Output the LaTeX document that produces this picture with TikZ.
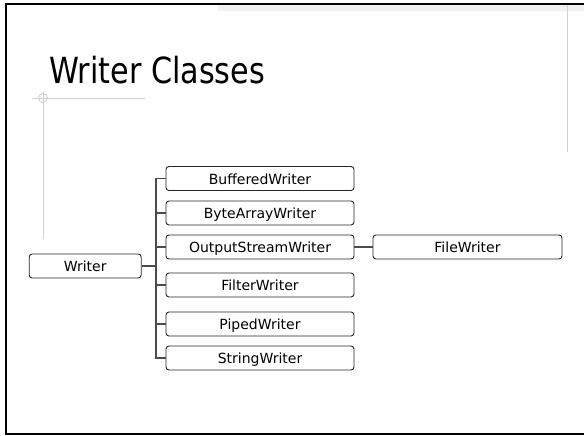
\documentclass[tikz,border=0pt]{standalone}
\usepackage{fontspec}
\setmainfont{DejaVu Sans}
\newfontfamily\titlefont[FakeStretch=0.84]{DejaVu Sans}
\begin{document}
\begin{tikzpicture}[x=1pt,y=-1pt]
		\tikzstyle{cls}=[draw=black!85, line width=0.9pt, rounded corners=3pt, minimum width=188pt, minimum height=24pt, inner sep=0pt, text height=11.2pt, text depth=0pt, font=\fontsize{14}{16}\selectfont];
		\tikzstyle{link}=[draw=black!70, line width=1.2pt];
		\tikzstyle{guide}=[draw=black!18, line width=0.9pt];

		\useasboundingbox (0,0) rectangle (584,436);

		% slide frame and guides
		\fill[black!6] (218,5) rectangle (584,11.5);
		\draw[line width=2pt] (584,3.7) -- (6,3.7) -- (6,434.3) -- (584,434.3);
		\draw[guide] (567,4.7) -- (567,152);
		\draw[guide] (32,98) -- (145,98);
		\draw[guide] (43,92) -- (43,239);
		\draw[guide] (43,98) circle (4.5);

		\node[anchor=base west, inner sep=0pt, font=\titlefont\fontsize{36}{40}\selectfont] (title) at (49,83.3) {Writer Classes};

		\node[cls, minimum width=112pt] (writer) at (85.2,266) {Writer};
		\node[cls] (buffered) at (260,178.5) {BufferedWriter};
		\node[cls] (bytearray) at (260,213) {ByteArrayWriter};
		\node[cls] (outputstream) at (260,247) {OutputStreamWriter};
		\node[cls] (filter) at (260,285) {FilterWriter};
		\node[cls] (piped) at (260,324) {PipedWriter};
		\node[cls] (string) at (260,358) {StringWriter};
		\node[cls, minimum width=189pt] (filewriter) at (467.5,247) {FileWriter};

		\coordinate (trunk) at (156,266);
		\draw[link] (writer) -- (trunk);
		\draw[link] (buffered.west) -| (trunk) |- (string.west);
		\foreach \c in {bytearray, outputstream, filter, piped}
			\draw[link] (trunk |- \c.west) -- (\c.west);
		\draw[link] (outputstream) -- (filewriter);
        \end{tikzpicture}
\end{document}
